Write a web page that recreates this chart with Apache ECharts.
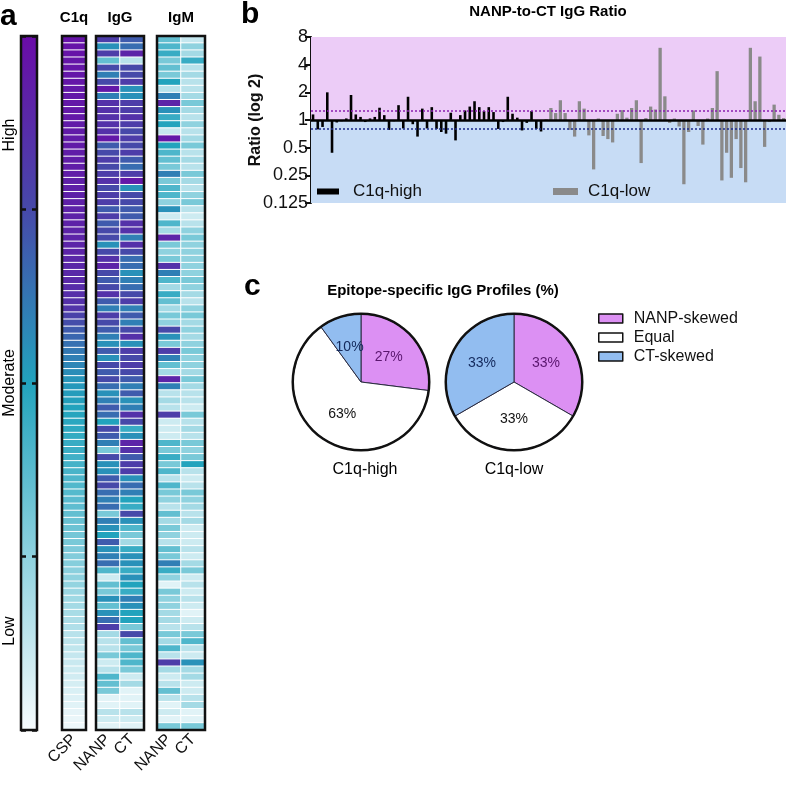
<!DOCTYPE html>
<html><head><meta charset="utf-8">
<script src="https://cdn.jsdelivr.net/npm/echarts@6/dist/echarts.min.js"></script>
<style>html,body{margin:0;padding:0;background:#fff}#c{width:786px;height:787px}</style>
</head><body><div id="c"></div>
<script>
// ---------- Panel a: heatmap values (0 = low, 1 = high) ----------
const c1q = [
0.97,0.97,0.97,0.96,0.96,0.96,0.96,0.95,0.95,0.95,
0.95,0.95,0.94,0.94,0.94,0.94,0.93,0.93,0.93,0.93,
0.92,0.92,0.92,0.92,0.91,0.91,0.91,0.9,0.9,0.9,
0.9,0.89,0.89,0.88,0.88,0.87,0.86,0.85,0.83,0.78,
0.74,0.7,0.67,0.64,0.62,0.6,0.58,0.56,0.54,0.53,
0.52,0.51,0.5,0.49,0.48,0.47,0.46,0.45,0.44,0.43,
0.42,0.41,0.4,0.39,0.38,0.37,0.36,0.35,0.34,0.33,
0.31,0.3,0.29,0.28,0.27,0.26,0.25,0.24,0.22,0.21,
0.2,0.19,0.18,0.17,0.15,0.14,0.13,0.12,0.11,0.1,
0.09,0.08,0.07,0.06,0.05,0.04,0.03,0.02];
const iggNanp = [
0.8,0.55,0.8,0.35,0.75,0.6,0.75,0.95,0.6,0.85,0.85,0.85,0.85,0.85,0.95,0.7,0.75,0.8,0.75,0.8,0.85,0.75,0.8,
0.8,0.7,0.8,0.7,0.75,0.75,0.55,0.75,0.85,0.9,0.75,0.7,0.75,0.85,0.7,0.6,0.8,0.75,0.7,0.6,0.55,0.7,0.55,0.75,0.7,0.75,0.65,0.55,
0.6,0.7,0.65,0.5,0.75,0.7,0.6,0.3,0.75,0.55,0.55,0.7,0.75,0.65,0.6,0.65,0.3,0.6,0.55,0.5,0.7,0.55,0.6,0.65,0.4,0.1,0.35,0.3,
0.55,0.35,0.55,0.65,0.8,0.2,0.15,0.15,0.3,0.1,0.15,0.4,0.35,0.3,0.05,0.05,0.15,0.1,0.05];
const iggCt = [
0.7,0.65,0.9,0.15,0.75,0.75,0.8,0.55,0.55,0.8,0.8,0.85,0.8,0.75,0.8,0.75,0.8,0.7,0.65,0.8,0.95,0.55,0.75,
0.75,0.7,0.7,0.85,0.85,0.6,0.85,0.75,0.65,0.65,0.55,0.6,0.65,0.75,0.8,0.6,0.7,0.6,0.75,0.85,0.55,0.8,0.75,0.8,0.75,0.7,0.6,0.7,
0.55,0.6,0.85,0.75,0.45,0.55,0.9,0.85,0.7,0.8,0.8,0.55,0.65,0.6,0.5,0.45,0.75,0.55,0.4,0.3,0.2,0.45,0.55,0.55,0.45,0.55,0.5,0.45,
0.6,0.55,0.5,0.5,0.3,0.75,0.35,0.3,0.4,0.4,0.3,0.1,0.2,0.05,0.05,0.05,0.15,0.1,0.05];
const igmNanp = [
0.35,0.4,0.45,0.3,0.35,0.3,0.5,0.15,0.6,0.9,0.55,0.45,0.5,0.12,0.95,0.5,0.4,0.35,0.3,0.6,0.3,0.4,0.4,
0.25,0.55,0.1,0.4,0.2,0.9,0.3,0.25,0.3,0.85,0.6,0.4,0.2,0.45,0.35,0.2,0.3,0.25,0.75,0.55,0.3,0.8,0.6,0.35,0.2,0.9,0.6,0.15,
0.2,0.15,0.8,0.1,0.1,0.1,0.4,0.3,0.45,0.3,0.4,0.15,0.4,0.3,0.25,0.15,0.35,0.2,0.3,0.25,0.15,0.35,0.3,0.6,0.45,0.25,0.05,0.3,
0.25,0.25,0.2,0.2,0.15,0.3,0.2,0.4,0.15,0.8,0.2,0.1,0.15,0.35,0.15,0.05,0.1,0.05,0.3];
const igmCt = [
0.12,0.25,0.2,0.45,0.15,0.2,0.15,0.15,0.2,0.3,0.2,0.15,0.25,0.15,0.2,0.3,0.15,0.2,0.15,0.3,0.2,0.15,0.25,
0.3,0.15,0.1,0.15,0.25,0.3,0.25,0.25,0.25,0.25,0.25,0.3,0.25,0.2,0.15,0.25,0.3,0.2,0.25,0.2,0.25,0.3,0.25,0.25,0.2,0.3,0.2,0.15,
0.15,0.1,0.3,0.15,0.2,0.15,0.3,0.25,0.3,0.5,0.15,0.1,0.15,0.3,0.25,0.2,0.15,0.2,0.1,0.1,0.1,0.15,0.1,0.2,0.3,0.1,0.15,0.1,
0.15,0.1,0.05,0.1,0.15,0.3,0.4,0.15,0.1,0.55,0.2,0.2,0.1,0.1,0.15,0.2,0.05,0.05,0.3];
const c1qCols = ['CSP'];
const subCols = ['NANP', 'CT'];
const scaleLabels = ['High', 'Moderate', 'Low'];

// ---------- Panel b: NANP-to-CT IgG ratio ----------
const ratioHigh = [1.15,0.79,0.84,2.0,0.44,0.94,0.97,1.04,1.87,1.15,1.08,0.95,1.04,1.08,1.36,1.13,0.78,0.97,1.45,0.81,
1.79,0.9,0.66,1.33,0.81,1.38,0.8,0.74,0.71,1.2,0.6,1.13,1.27,1.4,1.6,1.38,1.25,1.38,1.22,0.8,
0.95,1.79,1.17,1.06,0.77,0.93,1.25,0.8,0.75];
const ratioLow = [1.02,1.35,1.19,1.64,1.19,0.78,0.66,1.6,1.33,0.68,0.29,1.04,0.67,0.62,0.57,1.17,1.28,1.06,1.35,1.64,
0.34,1.05,1.4,1.3,6.1,1.81,0.93,1.04,0.85,0.2,0.74,1.27,0.86,0.54,1.04,1.35,3.4,0.22,0.44,0.235,
0.62,0.3,0.21,6.1,1.6,4.9,0.51,0.95,1.47,1.14,1.05];
const ratioTicks = [0.125, 0.25, 0.5, 1, 2, 4, 8];
const thresholdUp = 1.25, thresholdDown = 0.8;

// ---------- Panel c: profiles ----------
const profileNames = ['NANP-skewed', 'Equal', 'CT-skewed'];
const profileHigh = [27, 63, 10];
const profileLow = [33, 33, 33];
const profileColors = ['#dc90f3', '#ffffff', '#92bdf0'];
const profileLabelColors = ['#5a166e', '#111111', '#13295c'];

// ---------- build ----------
const F = 'Liberation Sans, Arial, Helvetica, sans-serif';
const rows = c1q.map((_, i) => String(i));
const cells = (cols) => {
  const out = [];
  cols.forEach((arr, x) => arr.forEach((v, y) => out.push([x, y, v])));
  return out;
};
const N = ratioHigh.length + ratioLow.length;
const cats = Array.from({length: N}, (_, i) => String(i + 1));
const highData = cats.map((_, i) => i < ratioHigh.length ? ratioHigh[i] : '-');
const lowData = cats.map((_, i) => i >= ratioHigh.length ? ratioLow[i - ratioHigh.length] : '-');

const heatCommon = {
  type: 'heatmap',
  itemStyle: {borderColor: '#ffffff', borderWidth: 1},
  emphasis: {disabled: true}, silent: true
};
const hmX = (gi, data) => ({
  type: 'category', gridIndex: gi, data: data, position: 'bottom',
  axisLine: {show: false}, axisTick: {show: false},
  axisLabel: {interval: 0, rotate: 45, fontSize: 16, color: '#111', margin: 7, fontFamily: F}
});
const hmY = (gi) => ({type: 'category', gridIndex: gi, data: rows, inverse: true, show: false});
const gridBorder = {show: true, borderColor: '#111', borderWidth: 2.5, backgroundColor: 'transparent', z: 5};

const pieData = (vals) => vals.map((v, i) => ({
  name: profileNames[i], value: v,
  itemStyle: {color: profileColors[i]},
  label: {color: profileLabelColors[i]}
}));
const pieCommon = {
  type: 'pie', radius: 68, startAngle: 90, clockwise: true, silent: true,
  label: {position: 'inner', formatter: '{c}%', fontSize: 14, fontFamily: F},
  labelLine: {show: false},
  itemStyle: {borderColor: '#2a2a40', borderWidth: 1}
};
const ring = (center) => ({
  type: 'pie', radius: [67, 69.5], center: center, silent: true,
  label: {show: false}, labelLine: {show: false},
  data: [{name: 'ring', value: 1, itemStyle: {color: '#111'}}]
});

const chart = echarts.init(document.getElementById('c'), null, {renderer: 'canvas'});
chart.setOption({
  animation: false,
  textStyle: {fontFamily: F},
  grid: [
    Object.assign({left: 21, top: 36, width: 16, height: 694}, gridBorder),
    Object.assign({left: 62, top: 36, width: 24, height: 694}, gridBorder),
    Object.assign({left: 96, top: 36, width: 48, height: 694}, gridBorder),
    Object.assign({left: 157, top: 36, width: 48, height: 694}, gridBorder),
    {left: 311, top: 37, right: 0, height: 166, show: false}
  ],
  xAxis: [
    {type: 'value', gridIndex: 0, show: false, min: 0, max: 1},
    hmX(1, c1qCols), hmX(2, subCols), hmX(3, subCols),
    {type: 'category', gridIndex: 4, data: cats, show: false}
  ],
  yAxis: [
    {type: 'value', gridIndex: 0, min: 0, max: 4, interval: 1, position: 'left', z: 6,
     axisLine: {show: false}, axisLabel: {show: false}, splitLine: {show: false},
     axisTick: {show: true, inside: true, length: 5, lineStyle: {color: '#111', width: 2.5}}},
    {type: 'value', gridIndex: 0, min: 0, max: 4, interval: 1, position: 'right', z: 6,
     axisLine: {show: false}, axisLabel: {show: false}, splitLine: {show: false},
     axisTick: {show: true, inside: true, length: 5, lineStyle: {color: '#111', width: 2.5}}},
    hmY(1), hmY(2), hmY(3),
    {type: 'log', logBase: 2, gridIndex: 4, min: ratioTicks[0], max: ratioTicks[ratioTicks.length - 1], interval: 1,
     name: 'Ratio (log 2)', nameLocation: 'middle', nameGap: 47, nameMoveOverlap: false,
     nameTextStyle: {fontSize: 16, fontWeight: 'bold', color: '#111', fontFamily: F},
     axisLine: {show: true, lineStyle: {color: '#111', width: 2}},
     axisTick: {show: true, length: 6, lineStyle: {color: '#111', width: 2}},
     axisLabel: {fontSize: 18, color: '#111', margin: 3, fontFamily: F, formatter: (v) => String(+v.toPrecision(3))},
     splitLine: {show: false}}
  ],
  visualMap: {
    type: 'continuous', min: 0, max: 1, seriesIndex: [0, 1, 2],
    left: 21, top: 36, itemWidth: 16, itemHeight: 694, padding: 0,
    calculable: false, text: null, showLabel: false, hoverLink: false,
    inRange: {color: ['#f6fbfd', '#8fd2df', '#22a3bd', '#4649a9', '#6a0ca8']}
  },
  series: [
    Object.assign({xAxisIndex: 1, yAxisIndex: 2, data: cells([c1q])}, heatCommon),
    Object.assign({xAxisIndex: 2, yAxisIndex: 3, data: cells([iggNanp, iggCt])}, heatCommon),
    Object.assign({xAxisIndex: 3, yAxisIndex: 4, data: cells([igmNanp, igmCt])}, heatCommon),
    {
      name: 'C1q-high', type: 'bar', xAxisIndex: 4, yAxisIndex: 5, data: highData,
      barWidth: 2.6, barGap: '-100%', itemStyle: {color: '#000000'}, silent: true,
      markArea: {silent: true, data: [
        [{yAxis: 1, itemStyle: {color: '#ecccf7'}}, {yAxis: 8}],
        [{yAxis: 0.125, itemStyle: {color: '#c7dcf5'}}, {yAxis: 1}]
      ]},
      markLine: {silent: true, symbol: 'none', label: {show: false}, data: [
        {yAxis: thresholdUp, lineStyle: {color: '#8b1fb0', type: [2, 2], width: 1.6}},
        {yAxis: thresholdDown, lineStyle: {color: '#1c2a8c', type: [2, 2], width: 1.6}},
        {yAxis: 1, lineStyle: {color: '#000', type: 'solid', width: 2.5}}
      ]}
    },
    {
      name: 'C1q-low', type: 'bar', xAxisIndex: 4, yAxisIndex: 5, data: lowData,
      barWidth: 3.3, barGap: '-100%', itemStyle: {color: '#8a8a8a'}, silent: true
    },
    Object.assign({center: [361, 382], data: pieData(profileHigh)}, pieCommon),
    Object.assign({center: [514, 382], data: pieData(profileLow)}, pieCommon),
    ring([361, 382]), ring([514, 382])
  ],
  legend: [
    {data: ['C1q-high'], left: 317, top: 183, padding: 0, icon: 'rect', itemWidth: 22, itemHeight: 6, itemGap: 10,
     textStyle: {fontSize: 17, color: '#111', fontFamily: F, padding: [0, 0, 0, 9]}, selectedMode: false},
    {data: ['C1q-low'], left: 553, top: 183, padding: 0, icon: 'rect', itemWidth: 25, itemHeight: 7,
     textStyle: {fontSize: 17, color: '#111', fontFamily: F, padding: [0, 0, 0, 5]}, selectedMode: false},
    {data: profileNames, left: 598, top: 310, padding: 0, orient: 'vertical', icon: 'rect', itemWidth: 24, itemHeight: 9, itemGap: 2,
     itemStyle: {borderColor: '#111', borderWidth: 1.5},
     textStyle: {fontSize: 16, lineHeight: 17, color: '#111', fontFamily: F, padding: [0, 0, 0, 6]}, selectedMode: false}
  ],
  graphic: [
    {type: 'text', x: 0, y: 2, style: {text: 'a', font: 'bold 30px ' + F, fill: '#000'}},
    {type: 'text', x: 241, y: 0, style: {text: 'b', font: 'bold 30px ' + F, fill: '#000'}},
    {type: 'text', x: 244, y: 272, style: {text: 'c', font: 'bold 30px ' + F, fill: '#000'}},
    {type: 'text', x: 74, y: 18, style: {text: 'C1q', font: 'bold 15px ' + F, fill: '#000', textAlign: 'center', textVerticalAlign: 'middle'}},
    {type: 'text', x: 120, y: 18, style: {text: 'IgG', font: 'bold 15px ' + F, fill: '#000', textAlign: 'center', textVerticalAlign: 'middle'}},
    {type: 'text', x: 181, y: 18, style: {text: 'IgM', font: 'bold 15px ' + F, fill: '#000', textAlign: 'center', textVerticalAlign: 'middle'}},
    {type: 'text', x: 548, y: 12, style: {text: 'NANP-to-CT IgG Ratio', font: 'bold 15px ' + F, fill: '#000', textAlign: 'center', textVerticalAlign: 'middle'}},
    {type: 'text', x: 443, y: 291, style: {text: 'Epitope-specific IgG Profiles (%)', font: 'bold 15px ' + F, fill: '#000', textAlign: 'center', textVerticalAlign: 'middle'}},
    {type: 'text', x: 365, y: 470, style: {text: 'C1q-high', font: '16px ' + F, fill: '#000', textAlign: 'center', textVerticalAlign: 'middle'}},
    {type: 'text', x: 514, y: 470, style: {text: 'C1q-low', font: '16px ' + F, fill: '#000', textAlign: 'center', textVerticalAlign: 'middle'}},
    {type: 'text', x: 10, y: 135, rotation: Math.PI / 2, style: {text: scaleLabels[0], font: '16px ' + F, fill: '#000', textAlign: 'center', textVerticalAlign: 'middle'}},
    {type: 'text', x: 10, y: 383, rotation: Math.PI / 2, style: {text: scaleLabels[1], font: '16px ' + F, fill: '#000', textAlign: 'center', textVerticalAlign: 'middle'}},
    {type: 'text', x: 10, y: 631, rotation: Math.PI / 2, style: {text: scaleLabels[2], font: '16px ' + F, fill: '#000', textAlign: 'center', textVerticalAlign: 'middle'}}
  ]
});
</script></body></html>
